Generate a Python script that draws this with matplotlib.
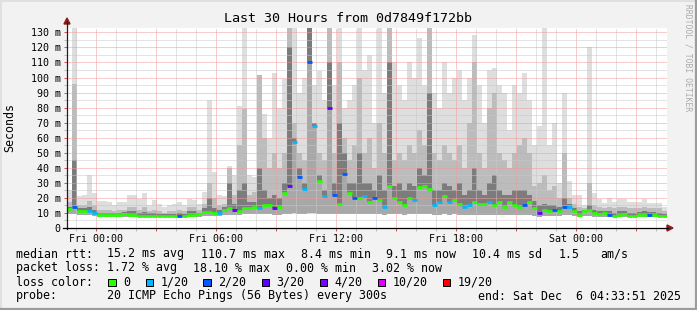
import numpy as np
import matplotlib
matplotlib.use("Agg")
from matplotlib import pyplot as plt
from matplotlib.lines import Line2D
from matplotlib.patches import Polygon, Rectangle

W, H = 697, 310
MONO = "DejaVu Sans Mono"

# time in hours from Fri 00:00, graph starts Thu 22:33:51, one value per 15 minutes
t_start = -(1 + 26 / 60 + 9 / 3600)
bin_hours = 0.25

median_ms = [
    12.6, 14.0, 11.0, 11.0, 11.0, 10.0, 8.6, 8.6, 8.6, 8.6, 8.6, 9.0, 8.6, 8.6, 8.2, 8.2, 8.2, 8.2, 8.2, 8.2,
    8.2, 8.2, 8.2, 8.2, 8.6, 8.6, 9.0, 10.4, 10.4, 9.7, 10.0, 12.0, 13.0, 12.0, 11.5, 13.5, 13.5, 13.7, 13.0, 15.0,
    15.0, 13.5, 14.0, 23.0, 28.0, 57.0, 34.0, 26.0, 110.0, 68.0, 31.0, 21.0, 80.0, 22.0, 16.0, 36.0, 23.0, 20.0, 20.0, 21.0,
    17.0, 20.0, 18.5, 14.0, 28.0, 20.0, 17.0, 15.0, 20.0, 18.5, 27.0, 28.0, 26.0, 15.0, 17.0, 21.0, 17.0, 18.5, 16.0, 14.0,
    15.0, 17.0, 16.0, 16.0, 17.0, 15.0, 17.0, 14.0, 17.0, 15.0, 14.0, 15.0, 17.0, 13.0, 10.0, 12.0, 11.0, 12.0, 11.0, 14.0,
    14.0, 11.0, 8.6, 11.0, 12.0, 10.0, 9.5, 10.0, 8.6, 8.2, 8.6, 9.0, 8.2, 8.2, 8.6, 8.6, 8.6, 8.6, 8.2, 8.2,
]
loss_pings = [
    0, 2, 0, 0, 1, 1, 0, 0, 0, 0, 0, 0, 0, 0, 0, 0, 0, 0, 0, 0,
    0, 0, 2, 0, 0, 0, 0, 0, 0, 0, 1, 0, 0, 3, 0, 0, 0, 0, 1, 0,
    0, 3, 0, 0, 3, 1, 2, 1, 2, 1, 0, 1, 3, 2, 0, 2, 0, 2, 0, 1,
    0, 2, 0, 1, 0, 0, 0, 0, 0, 1, 0, 0, 0, 1, 1, 0, 1, 0, 0, 1,
    1, 0, 0, 0, 1, 0, 0, 0, 0, 0, 0, 2, 0, 0, 3, 0, 0, 2, 0, 2,
    1, 0, 0, 0, 0, 0, 0, 0, 2, 0, 0, 0, 0, 0, 0, 0, 2, 0, 0, 0,
]
smoke_lo = [
    9, 9, 8.5, 8.5, 8.5, 8, 7.5, 7.5, 7.5, 7.5, 7.5, 7.5, 7.5, 7.5, 7.2, 7.2, 7.2, 7.2, 7.2, 7.2,
    7.2, 7.2, 7.2, 7.2, 7.5, 7.5, 7.5, 8, 8, 8, 8, 8.5, 8.5, 8.5, 8.5, 9, 9, 9, 9, 9,
    9, 8.5, 8.5, 9, 9, 10, 9.5, 9, 10, 10, 9.5, 9, 9.5, 9, 9, 9.5, 9, 9, 9, 9,
    9, 9, 9, 8.5, 9, 9, 9, 8.5, 9, 9, 9.5, 9.5, 9.5, 8.5, 8.5, 9, 8.5, 9, 8.5, 8.5,
    8.5, 8.5, 8.5, 8.5, 8.5, 8.5, 8.5, 8.5, 8.5, 8.5, 8.5, 8.5, 8.5, 8, 7.5, 8, 8, 8, 8, 8.5,
    8.5, 8, 7.5, 8, 8, 7.5, 7.5, 7.5, 7.5, 7.2, 7.5, 7.5, 7.2, 7.2, 7.5, 7.5, 7.5, 7.5, 7.2, 7.2,
]
smoke_core = [
    14, 45, 13, 13, 14, 12, 10, 10, 10, 10, 10, 10.5, 11, 11, 10, 10.5, 10, 10, 9.5, 9.5,
    9.5, 9.5, 10, 9.5, 11, 11, 10, 13, 20, 13, 12, 14, 30, 16, 25, 30, 17, 17, 40, 25,
    20, 22, 20, 30, 120, 60, 40, 30, 133, 70, 35, 25, 110, 30, 70, 50, 30, 30, 50, 30,
    30, 25, 35, 25, 110, 28, 30, 25, 30, 28, 40, 35, 90, 25, 25, 30, 28, 25, 30, 22,
    25, 40, 25, 22, 30, 35, 25, 22, 22, 25, 25, 25, 22, 18, 15, 16, 15, 15, 14, 20,
    16, 13, 11, 12, 15, 12, 11, 11, 11, 10, 11, 11, 10, 10, 10.5, 11, 10.5, 10.5, 10, 9.5,
]
smoke_mid = [
    17, 96, 15, 15, 18, 15, 12, 12, 12, 11, 12, 12, 14, 14, 12, 14, 11, 12, 11, 10,
    11, 11, 12, 11, 14, 14, 12, 16, 30, 20, 15, 16, 40, 22, 55, 79, 22, 24, 102, 60,
    40, 50, 40, 50, 133, 70, 50, 45, 133, 70, 50, 45, 133, 50, 110, 60, 45, 55, 100, 50,
    60, 40, 70, 50, 133, 45, 50, 45, 55, 50, 65, 55, 133, 50, 45, 55, 50, 45, 55, 40,
    70, 110, 50, 40, 80, 90, 50, 45, 40, 50, 55, 60, 50, 28, 30, 35, 25, 28, 20, 50,
    20, 16, 14, 13, 30, 15, 14, 13, 14, 13, 14, 14, 13, 13, 13, 14, 13, 13, 13, 11,
]
smoke_hi = [
    25, 133, 21, 22, 35, 23, 18, 18, 17.5, 15, 17.5, 17.5, 22, 22, 19.5, 23, 15, 18.5, 16, 14,
    15, 16, 17.5, 15, 19.6, 18.5, 16, 24, 85, 37, 22, 21, 41, 35, 81, 133, 35, 34, 102, 76,
    60, 103, 80, 99, 133, 133, 90, 100, 133, 95, 104, 85, 133, 95, 133, 80, 85, 95, 133, 105,
    115, 70, 133, 90, 133, 110, 95, 85, 110, 100, 126, 95, 133, 90, 80, 110, 90, 100, 105, 85,
    100, 128, 95, 70, 105, 106, 95, 90, 65, 95, 90, 103, 85, 55, 68, 133, 55, 70, 30, 90,
    31, 22, 22, 15, 120, 23, 19, 16.5, 20, 17.5, 19, 19, 17.5, 17.5, 17.5, 19, 16.5, 16.5, 16.5, 14,
]

x_label_hours = [0, 6, 12, 18, 24]
x_labels = ["Fri 00:00", "Fri 06:00", "Fri 12:00", "Fri 18:00", "Sat 00:00"]
y_ticks = [0, 10, 20, 30, 40, 50, 60, 70, 80, 90, 100, 110, 120, 130]
y_labels = ["0", "10 m", "20 m", "30 m", "40 m", "50 m", "60 m", "70 m",
            "80 m", "90 m", "100 m", "110 m", "120 m", "130 m"]

loss_steps = [0, 1, 2, 3, 4, 10, 19]
loss_names = ["0", "1/20", "2/20", "3/20", "4/20", "10/20", "19/20"]
loss_colors = ["#26ff00", "#00b8ff", "#0059ff", "#5e00ff", "#7e00ff", "#dd00ff", "#ff0000"]


def px(x, y):
    return x / W, 1 - y / H


def loss_color(n):
    col = loss_colors[0]
    for step, c in zip(loss_steps, loss_colors):
        if n >= step:
            col = c
    return col


fig = plt.figure(figsize=(W / 100, H / 100), dpi=100, facecolor="#f2f2f2")
ax = fig.add_axes([67 / W, 82 / H, 600 / W, 200 / H])
ax.set_facecolor("white")

n = len(median_ms)
edges = t_start + bin_hours * np.arange(n + 1)

ax.stairs(smoke_hi, edges, baseline=smoke_lo, fill=True, color="#dedede", zorder=1)
ax.stairs(smoke_mid, edges, baseline=median_ms, fill=True, color="#bcbcbc", zorder=1.1)
ax.stairs(smoke_core, edges, baseline=median_ms, fill=True, color="#7c7c7c", zorder=1.2)
ax.stairs(median_ms, edges, baseline=smoke_lo, fill=True, color="#a8a8a8", zorder=1.3)
ax.hlines(median_ms, edges[:-1], edges[1:], colors=[loss_color(v) for v in loss_pings],
          linewidth=2.0, zorder=4)

ax.set_xlim(t_start, t_start + 30)
ax.set_ylim(0, 132.9)

major_x = np.arange(0, 28, 3)
ax.set_xticks(major_x)
ax.set_xticklabels([x_labels[x_label_hours.index(h)] if h in x_label_hours else "" for h in major_x],
                   fontfamily=MONO, fontsize=7.2)
ax.set_xticks(np.arange(-1, 29, 1), minor=True)
ax.set_yticks(y_ticks)
ax.set_yticklabels(y_labels, fontfamily=MONO, fontsize=7.2)
ax.set_yticks(np.arange(5, 133, 10), minor=True)

ax.set_axisbelow(False)
ax.grid(which="minor", color="#c8c8c8", linestyle=(0, (1, 1)), linewidth=0.72, zorder=2)
ax.grid(which="major", color="#f29a9a", linestyle=(0, (1, 1)), linewidth=0.72, zorder=2)
ax.tick_params(which="both", direction="out", length=2.5, width=0.72)
ax.tick_params(which="major", color="#e05050", pad=2)
ax.tick_params(which="minor", color="#bbbbbb")
for s in ax.spines.values():
    s.set_visible(False)

# axis lines with arrow heads
fig.add_artist(Line2D(*zip(px(67, 229), px(67, 22)), color="#202020", linewidth=0.9))
fig.add_artist(Line2D(*zip(px(63, 228), px(668, 228)), color="#000000", linewidth=0.9))
fig.add_artist(Polygon([px(64, 24), px(70, 24), px(67, 18)], closed=True, color="#8b1a1a"))
fig.add_artist(Polygon([px(667, 225), px(667, 231), px(673, 228)], closed=True, color="#8b1a1a"))

# frame
fig.add_artist(Line2D([0, 1], [1 - 0.5 / H] * 2, color="#e0e0e0", linewidth=1.4))
fig.add_artist(Line2D([0.5 / W] * 2, [0, 1], color="#e0e0e0", linewidth=1.4))
fig.add_artist(Line2D([0, 1], [1 / H] * 2, color="#9c9c9c", linewidth=1.6))
fig.add_artist(Line2D([1 - 1 / W] * 2, [0, 1], color="#9c9c9c", linewidth=1.6))

fig.text(*px(348, 19), "Last 30 Hours from 0d7849f172bb", ha="center", va="center",
         fontfamily=MONO, fontsize=9.6)
fig.text(*px(10, 128), "Seconds", rotation=90, ha="center", va="center",
         fontfamily=MONO, fontsize=8.4)
fig.text(*px(688, 58), "RRDTOOL / TOBI OETIKER", rotation=270, ha="center", va="center",
         fontfamily=MONO, fontsize=5.8, color="#aaaaaa")

legend_rows = [
    (254, [(16, "median rtt:"), (107.3, "15.2 ms avg"), (201, "110.7 ms max"), (301, "8.4 ms min"),
           (385.7, "9.1 ms now"), (472.3, "10.4 ms sd"), (558.3, "1.5"), (600, "am/s")]),
    (268, [(16, "packet loss:"), (107.3, "1.72 % avg"), (193.3, "18.10 % max"),
           (286, "0.00 % min"), (372.3, "3.02 % now")]),
    (282, [(16, "loss color:")]),
    (296, [(16, "probe:"), (107.3, "20 ICMP Echo Pings (56 Bytes) every 300s"),
           (478.3, "end: Sat Dec  6 04:33:51 2025")]),
]
for y, items in legend_rows:
    for x, s in items:
        fig.text(*px(x, y), s, ha="left", va="center", fontfamily=MONO, fontsize=8.4)

box_x = [108, 145.7, 203.3, 261.7, 319.5, 377.7, 442.7]
for bx, name, col in zip(box_x, loss_names, loss_colors):
    x0, y0 = px(bx, 286)
    fig.add_artist(Rectangle((x0, y0), 7.5 / W, 7.5 / H, facecolor=col, edgecolor="black",
                             linewidth=0.72, transform=fig.transFigure))
    fig.text(*px(bx + 15, 282), name, ha="left", va="center", fontfamily=MONO, fontsize=8.4)

fig.savefig("out.png", dpi=100, facecolor=fig.get_facecolor())
